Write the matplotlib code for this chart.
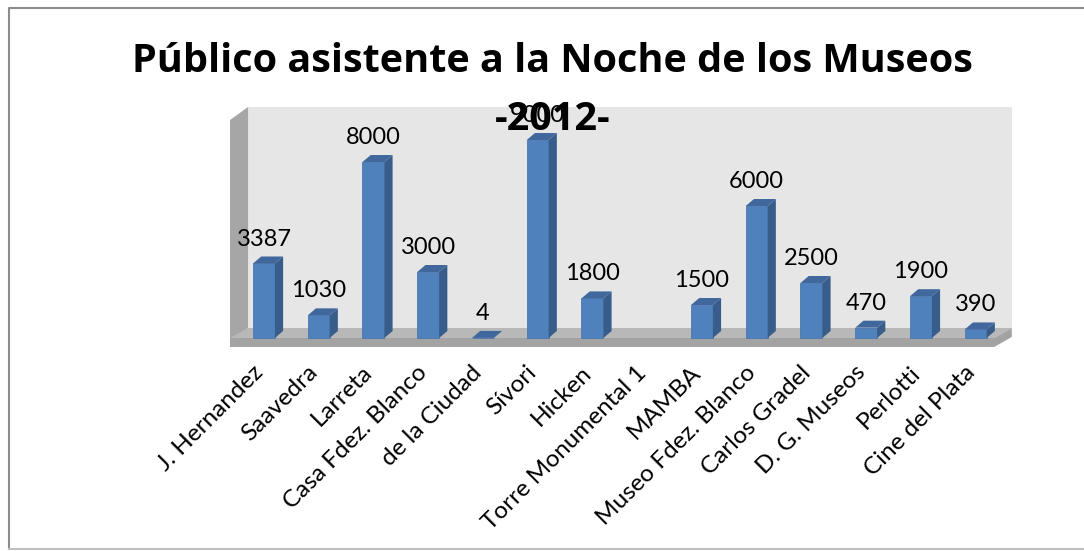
import numpy as np
import matplotlib
matplotlib.use("Agg")
import matplotlib.pyplot as plt
from matplotlib.patches import Polygon
from matplotlib.lines import Line2D

museos = ["J. Hernandez", "Saavedra", "Larreta", "Casa Fdez. Blanco", "de la Ciudad",
          "Sívori", "Hicken", "Torre Monumental 1", "MAMBA", "Museo Fdez. Blanco",
          "Carlos Gradel", "D. G. Museos", "Perlotti", "Cine del Plata"]
publico = [3387, 1030, 8000, 3000, 4, 9000, 1800, np.nan, 1500, 6000, 2500, 470, 1900, 390]

titulo = "Público asistente a la Noche de los Museos"
subtitulo = "-2012-"

plt.rcParams["font.family"] = ["Lato", "DejaVu Sans"]

fig = plt.figure(figsize=(10.84, 5.51), dpi=100)
W, H = 1084, 551
ax = fig.add_axes([230 / W, 1 - 347 / H, 784 / W, 244 / H])
ax.set_xlim(-0.62, 13.7)
ax.set_ylim(-409, 10682)
ax.axis("off")

# fake 3d: depth offset in data units
dx, dy = 0.15, 318
half = 0.2

# back wall, left wall, floor
ax.add_patch(Polygon([(-0.29, 455), (-0.29, 10500), (13.66, 10500), (13.66, 455)],
                     closed=True, fc="#e6e6e6", ec="none", zorder=1))
ax.add_patch(Polygon([(-0.62, -409), (-0.62, 9909), (-0.29, 10500), (-0.29, 455)],
                     closed=True, fc="#a6a6a6", ec="none", zorder=1))
ax.add_patch(Polygon([(-0.62, 0), (-0.29, 455), (13.66, 455), (13.34, 0)],
                     closed=True, fc="#b8b8b8", ec="none", zorder=2))
ax.add_patch(Polygon([(-0.62, -409), (-0.62, 0), (13.34, 0), (13.66, 455), (13.66, 50), (13.34, -409)],
                     closed=True, fc="#a3a3a3", ec="none", zorder=2))

x = np.arange(len(museos))
for i, v in zip(x, publico):
    if np.isnan(v):
        continue
    ax.bar(i, v, width=2 * half, color="#4f81bd", edgecolor="#4a78b0", linewidth=0.6, zorder=3)
    ax.add_patch(Polygon([(i + half, 0), (i + half + dx, dy), (i + half + dx, v + dy), (i + half, v)],
                         closed=True, fc="#385d8a", ec="none", zorder=3))
    ax.add_patch(Polygon([(i - half, v), (i - half + dx, v + dy), (i + half + dx, v + dy), (i + half, v)],
                         closed=True, fc="#41689c", ec="none", zorder=3))
    ax.annotate(f"{v:.0f}", (i, v + dy), xytext=(0, 5), textcoords="offset points",
                ha="center", va="bottom", fontsize=17, color="black", zorder=4)

for i, nombre in zip(x, museos):
    ax.annotate(nombre, (i, -409), xytext=(-3, -16), textcoords="offset points",
                rotation=45, rotation_mode="anchor", ha="right", va="center",
                fontsize=17.5, color="black", annotation_clip=False)

fig.text(552.5 / W, 1 - 72 / H, titulo, ha="center", va="baseline",
         fontsize=28.5, fontweight="bold", family=["Open Sans", "DejaVu Sans"], zorder=5)
fig.text(552.5 / W, 1 - 130 / H, subtitulo, ha="center", va="baseline",
         fontsize=28.5, fontweight="bold", family=["Open Sans", "DejaVu Sans"], zorder=5)

# chart area border
fig.add_artist(Line2D([9 / W, 9 / W, 1.0], [1 - 549 / H, 1 - 8 / H, 1 - 8 / H],
                      transform=fig.transFigure, color="#8c8c8c", lw=1.5))
fig.add_artist(Line2D([9 / W, 1.0], [1 - 549 / H, 1 - 549 / H],
                      transform=fig.transFigure, color="#bfbfbf", lw=1.5))

fig.savefig("out.png", dpi=100, facecolor="white")
